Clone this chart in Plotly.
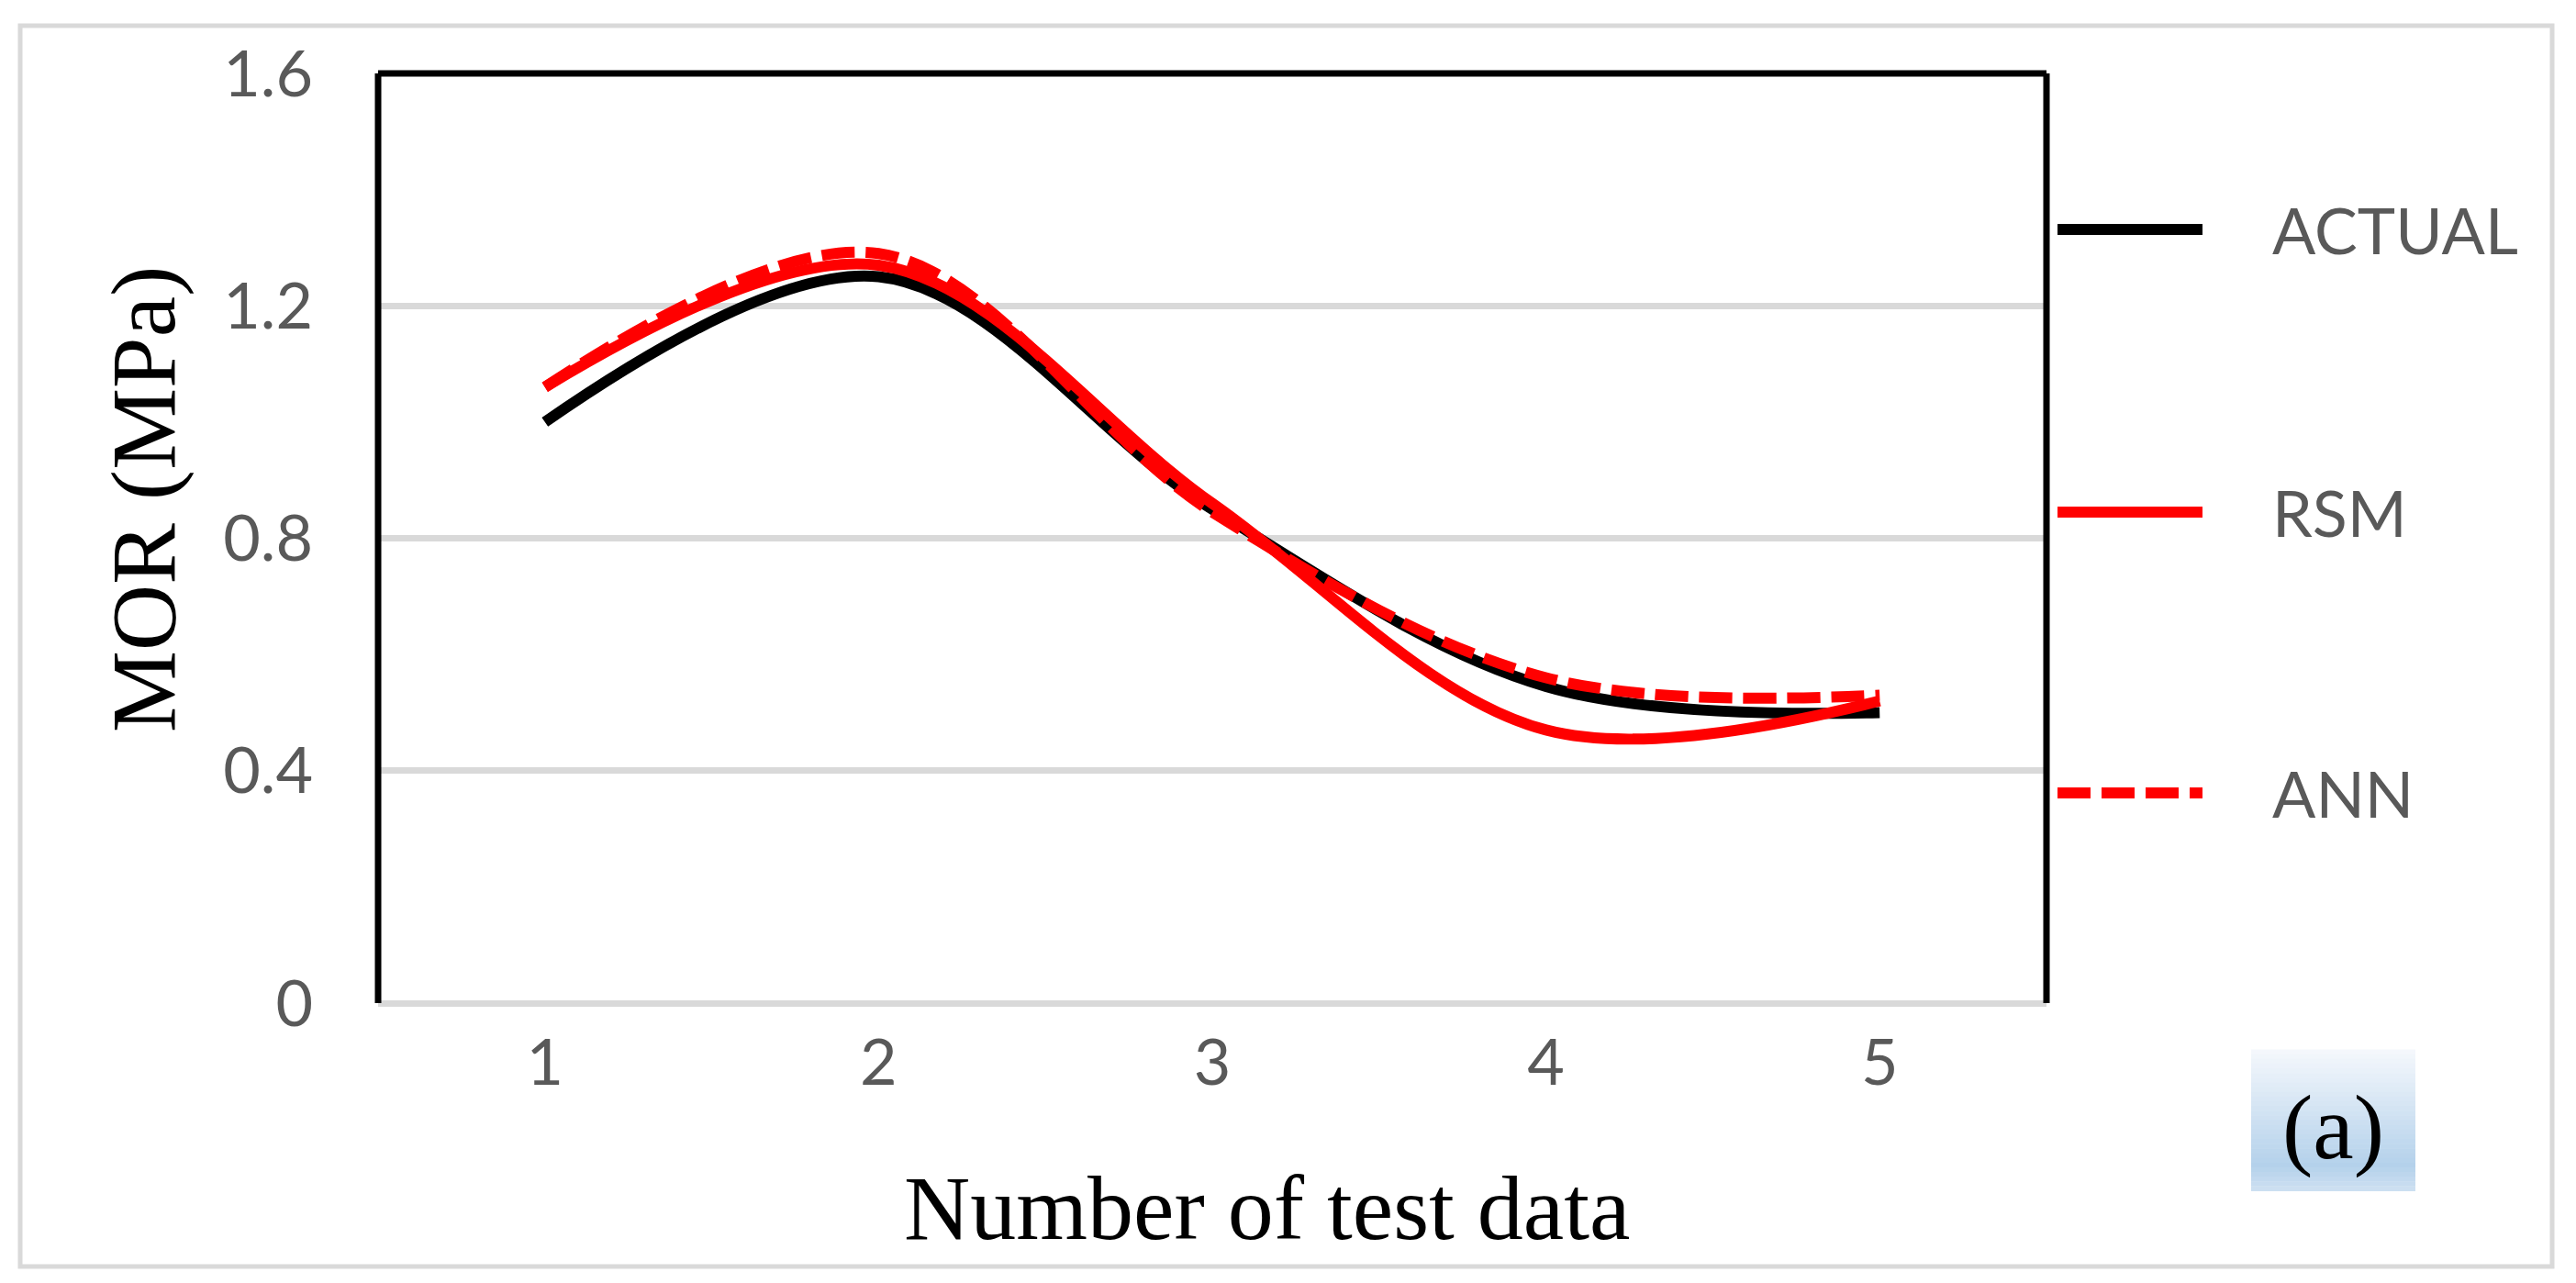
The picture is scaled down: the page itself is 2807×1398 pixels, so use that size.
import plotly.graph_objects as go

# ---- data ----
test_no = [1, 2, 3, 4, 5]
actual = [1.00, 1.25, 0.85, 0.545, 0.50]
rsm = [1.06, 1.27, 0.86, 0.47, 0.52]
ann = [1.06, 1.29, 0.845, 0.56, 0.53]
series_names = ["ACTUAL", "RSM", "ANN"]
y_ticks = [0, 0.4, 0.8, 1.2, 1.6]
y_tick_text = ["0", "0.4", "0.8", "1.2", "1.6"]
x_ticks = [1, 2, 3, 4, 5]
x_tick_text = ["1", "2", "3", "4", "5"]

# ---- geometry (pixels) ----
WIDTH, HEIGHT = 2807, 1398
L, R, T, B = 404, 2222, 72, 1085
PW, PH = R - L, B - T


def px(x):
    return (x - L) / PW


def py(y):
    return (B - y) / PH


TICK_FONT = dict(family="Lato, Carlito, Open Sans, sans-serif", size=70, color="#595959")
SERIF = "Liberation Serif, Times New Roman, serif"

fig = go.Figure()
fig.add_trace(go.Scatter(x=test_no, y=actual, mode="lines", name=series_names[0],
                         line=dict(color="#000000", width=12, shape="spline", smoothing=1.0)))
fig.add_trace(go.Scatter(x=test_no, y=rsm, mode="lines", name=series_names[1],
                         line=dict(color="#ff0000", width=12, shape="spline", smoothing=1.0)))
fig.add_trace(go.Scatter(x=test_no, y=ann, mode="lines", name=series_names[2],
                         line=dict(color="#ff0000", width=12, shape="spline", smoothing=1.0,
                                   dash="36px,12px")))

shapes = []
# outer light-gray border
shapes.append(dict(type="rect", xref="paper", yref="paper",
                   x0=px(14), x1=px(2773), y0=py(1372), y1=py(20),
                   line=dict(color="#d9d9d9", width=5), fillcolor="rgba(0,0,0,0)", layer="below"))
# black frame (left, top, right)
for (x0, y0, x1, y1) in [(0, 0, 0, 1), (0, 1, 1, 1), (1, 0, 1, 1)]:
    shapes.append(dict(type="line", xref="paper", yref="paper", x0=x0, y0=y0, x1=x1, y1=y1,
                       line=dict(color="#000000", width=7), layer="above"))

# legend (drawn manually to match long sample lines)
leg_y = [242, 550, 856]
leg_colors = ["#000000", "#ff0000", "#ff0000"]
leg_dash = ["solid", "solid", "36px,12px"]
annotations = []
for name, yy, col, dsh in zip(series_names, leg_y, leg_colors, leg_dash):
    shapes.append(dict(type="line", xref="paper", yref="paper",
                       x0=px(2234), x1=px(2392), y0=py(yy), y1=py(yy),
                       line=dict(color=col, width=12, dash=dsh)))
    annotations.append(dict(xref="paper", yref="paper", x=px(2466), y=py(yy),
                            xanchor="left", yanchor="middle", showarrow=False,
                            text=name, font=TICK_FONT))

# "(a)" box with vertical gradient (stacked strips)
bx0, bx1, by0, by1 = 2445, 2624, 1136, 1290
n = 30
top_c = (245, 248, 252)
mid_c = (180, 209, 235)
bot_c = (206, 224, 242)
for i in range(n):
    t = (i + 0.5) / n
    if t < 0.82:
        f = t / 0.82
        c = tuple(int(round(top_c[k] + (mid_c[k] - top_c[k]) * f)) for k in range(3))
    else:
        f = (t - 0.82) / 0.18
        c = tuple(int(round(mid_c[k] + (bot_c[k] - mid_c[k]) * f)) for k in range(3))
    ya = by0 + (by1 - by0) * i / n
    yb = by0 + (by1 - by0) * (i + 1) / n
    shapes.append(dict(type="rect", xref="paper", yref="paper",
                       x0=px(bx0), x1=px(bx1), y0=py(yb), y1=py(ya) + 0.0005,
                       line=dict(width=0), fillcolor="rgb(%d,%d,%d)" % c, layer="above"))
annotations.append(dict(xref="paper", yref="paper", x=px((bx0 + bx1) / 2), y=py(1220),
                        xanchor="center", yanchor="middle", showarrow=False,
                        text="(a)", font=dict(family=SERIF, size=100, color="#000000")))

# axis titles
annotations.append(dict(xref="paper", yref="paper", x=px(1372), y=py(1308),
                        xanchor="center", yanchor="middle", showarrow=False,
                        text="Number of test data",
                        font=dict(family=SERIF, size=100, color="#000000")))
annotations.append(dict(xref="paper", yref="paper", x=px(148), y=py(536),
                        xanchor="center", yanchor="middle", showarrow=False, textangle=-90,
                        text="MOR (MPa)",
                        font=dict(family=SERIF, size=100, color="#000000")))

fig.update_layout(
    width=WIDTH, height=HEIGHT,
    margin=dict(l=L, r=WIDTH - R, t=T, b=HEIGHT - B, autoexpand=False),
    paper_bgcolor="#ffffff", plot_bgcolor="#ffffff",
    showlegend=False,
    shapes=shapes, annotations=annotations,
    xaxis=dict(range=[0.5, 5.5], tickvals=x_ticks, ticktext=x_tick_text,
               showgrid=False, zeroline=False, showline=False, ticks="",
               tickfont=TICK_FONT, ticklabelstandoff=18, fixedrange=True),
    yaxis=dict(range=[0, 1.6], tickvals=y_ticks, ticktext=y_tick_text,
               showgrid=True, gridcolor="#d9d9d9", gridwidth=7,
               zeroline=True, zerolinecolor="#d9d9d9", zerolinewidth=7,
               showline=False, ticks="", tickfont=TICK_FONT, ticklabelstandoff=70,
               fixedrange=True),
)

fig.write_html("out.html")
